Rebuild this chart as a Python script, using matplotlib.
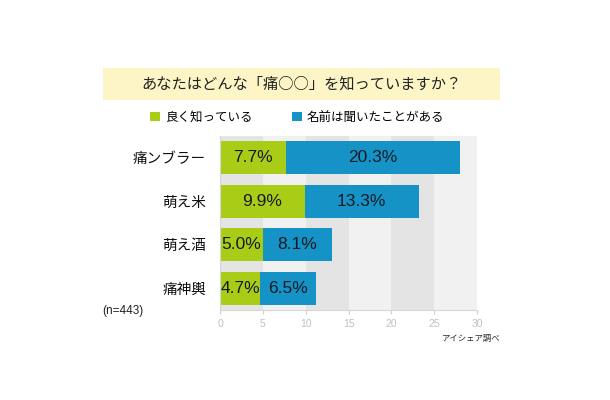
import matplotlib.pyplot as plt
from matplotlib.patches import Rectangle, Patch

plt.rcParams['font.family'] = ['Noto Sans CJK JP', 'DejaVu Sans']
num_font = ['Liberation Sans', 'DejaVu Sans']

categories = ['痛ンブラー', '萌え米', '萌え酒', '痛神輿']
know_well = [7.7, 9.9, 5.0, 4.7]
heard_name = [20.3, 13.3, 8.1, 6.5]
xticks = [0, 5, 10, 15, 20, 25, 30]

green = '#a9cd16'
blue = '#1593c6'

fig = plt.figure(figsize=(6.1, 4.0), dpi=100)
fig.patch.set_facecolor('white')

# title band
fig.patches.append(Rectangle((0.169, 0.75), 0.651, 0.08, transform=fig.transFigure,
                             facecolor='#fdf5c6', edgecolor='none', zorder=0))
fig.text(0.494, 0.79, 'あなたはどんな「痛○○」を知っていますか？', ha='center', va='center',
         fontsize=11, color='#222222')

ax = fig.add_axes([0.3607, 0.225, 0.4213, 0.435])
ax.set_facecolor('white')

# alternating background bands
for i in range(len(xticks) - 1):
    ax.axvspan(xticks[i], xticks[i + 1], color='#e4e4e4' if i % 2 == 0 else '#f1f1f1',
               zorder=0, lw=0)

y = range(len(categories))
ax.barh(y, know_well, height=0.75, color=green, zorder=2)
ax.barh(y, heard_name, left=know_well, height=0.75, color=blue, zorder=2)

for i in y:
    ax.text(know_well[i] / 2, i, f'{know_well[i]:.1f}%', ha='center', va='center',
            fontsize=12.5, color='#141a24', zorder=3, family=num_font)
    ax.text(know_well[i] + heard_name[i] / 2, i, f'{heard_name[i]:.1f}%', ha='center',
            va='center', fontsize=12.5, color='#141a24', zorder=3, family=num_font)

ax.set_xlim(0, 30)
ax.set_ylim(3.5, -0.5)
ax.set_xticks(xticks)
ax.set_xticklabels([str(t) for t in xticks], family=num_font)
ax.set_yticks(list(y))
ax.set_yticklabels(categories, fontsize=10.5, color='#111111')
ax.tick_params(axis='y', length=0, pad=10)
ax.tick_params(axis='x', length=3, colors='#cfcfcf', labelsize=7.5, labelcolor='#c0c0c0')
for s in ['top', 'right']:
    ax.spines[s].set_visible(False)
ax.spines['left'].set_color('#d6d6d6')
ax.spines['bottom'].set_color('#d6d6d6')

handles = [Patch(facecolor=green, label='良く知っている'),
           Patch(facecolor=blue, label='名前は聞いたことがある')]
fig.legend(handles=handles, loc='center', bbox_to_anchor=(0.487, 0.707), ncol=2,
           frameon=False, fontsize=9, handlelength=0.8, handleheight=0.8,
           handletextpad=0.4, columnspacing=3.2)

fig.text(0.168, 0.222, '(n=443)', fontsize=8.5, color='#222222', va='center', family=num_font)
fig.text(0.82, 0.155, 'アイシェア調べ', fontsize=6, color='#222222', ha='right', va='center')

plt.savefig('out.png', dpi=100)
